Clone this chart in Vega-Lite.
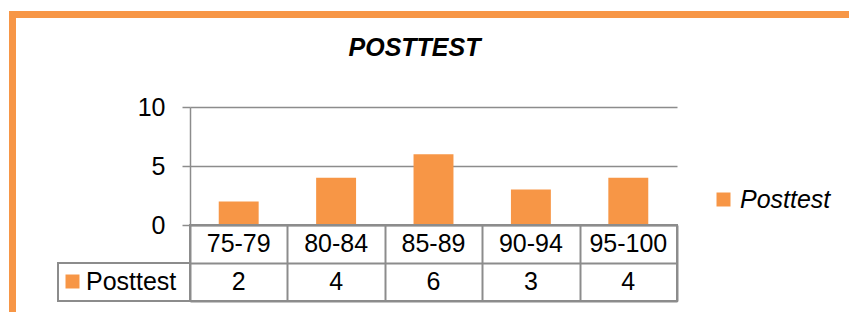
{
  "$schema": "https://vega.github.io/schema/vega-lite/v6.json",
  "background": "white",
  "padding": {"left": 9, "top": 11, "right": 0, "bottom": 0},
  "config": {"view": {"stroke": null}, "font": "Liberation Sans"},
  "datasets": {
    "scores": [
      {"range": "75-79", "count": 2, "series": "Posttest"},
      {"range": "80-84", "count": 4, "series": "Posttest"},
      {"range": "85-89", "count": 6, "series": "Posttest"},
      {"range": "90-94", "count": 3, "series": "Posttest"},
      {"range": "95-100", "count": 4, "series": "Posttest"}
    ]
  },
  "bounds": "flush",
  "spacing": 0,
  "vconcat": [
    {
      "width": 840, "height": 7,
      "view": {"fill": "#F79646", "stroke": null},
      "data": {"values": []},
      "mark": "rect",
      "encoding": {}
    },
    {
      "bounds": "flush",
      "spacing": 42,
      "hconcat": [
        {
          "width": 7, "height": 294,
          "view": {"fill": "#F79646", "stroke": null},
          "data": {"values": []},
          "mark": "rect",
          "encoding": {}
        },
        {
          "bounds": "flush",
          "spacing": 0,
          "columns": 2,
          "resolve": {"scale": {"color": "independent"}},
          "concat": [
            {"width": 132, "height": 89, "data": {"values": []}, "mark": "rect", "encoding": {}},
            {"width": 487, "height": 89, "data": {"values": []}, "mark": "rect", "encoding": {}},
            {"width": 132, "height": 118, "data": {"values": []}, "mark": "rect", "encoding": {}},
            {
              "width": 487, "height": 118,
              "title": {"text": "POSTTEST", "fontSize": 25, "fontWeight": "bold", "fontStyle": "italic", "color": "black", "offset": 34, "dx": -19, "font": "Liberation Sans"},
              "data": {"name": "scores"},
              "mark": {"type": "bar"},
              "encoding": {
                "x": {"field": "range", "type": "nominal", "sort": null, "axis": null,
                      "scale": {"paddingInner": 0.59, "paddingOuter": 0.295}},
                "y": {"field": "count", "type": "quantitative",
                      "scale": {"domain": [0, 10], "nice": false},
                      "axis": {"values": [0, 5, 10], "title": null, "grid": true, "gridColor": "#8c8c8c", "gridWidth": 1.5,
                               "domainColor": "#8c8c8c", "domainWidth": 1.5, "tickColor": "#8c8c8c", "tickWidth": 1.5, "tickSize": 8,
                               "labelFontSize": 25, "labelColor": "black", "labelPadding": 17, "labelFont": "Liberation Sans"}},
                "color": {"field": "series", "type": "nominal", "scale": {"domain": ["Posttest"], "range": ["#F79646"]},
                          "legend": {"title": null, "orient": "none", "legendX": 521, "legendY": 80, "padding": 0,
                                     "symbolType": "square", "symbolSize": 196, "symbolStrokeWidth": 0, "symbolOpacity": 1,
                                     "labelFontSize": 25, "labelFontStyle": "italic", "labelColor": "black", "labelOffset": 4, "labelFont": "Liberation Sans"}}
              }
            },
            {
              "width": 132, "height": 76,
              "layer": [
                {
                  "data": {"values": [{"row": "value"}]},
                  "mark": {"type": "rect", "fill": "white", "stroke": "#8c8c8c", "strokeWidth": 2},
                  "encoding": {
                    "y": {"field": "row", "type": "nominal", "axis": null,
                          "scale": {"domain": ["category", "value"], "paddingInner": 0, "paddingOuter": 0}}
                  }
                },
                {
                  "data": {"name": "scores"},
                  "mark": {"type": "square", "filled": true, "opacity": 0},
                  "encoding": {
                    "color": {"field": "series", "type": "nominal", "scale": {"domain": ["Posttest"], "range": ["#F79646"]},
                              "legend": {"title": null, "orient": "none", "legendX": 2, "legendY": 44, "padding": 0,
                                         "symbolType": "square", "symbolSize": 196, "symbolStrokeWidth": 0, "symbolOpacity": 1, "symbolFillColor": "#F79646",
                                         "labelFontSize": 25, "labelColor": "black", "labelOffset": 1, "labelFont": "Liberation Sans"}}
                  }
                }
              ]
            },
            {
              "width": 487, "height": 76,
              "view": {"stroke": "#8c8c8c", "strokeWidth": 2},
              "data": {"name": "scores"},
              "layer": [
                {
                  "mark": {"type": "text", "fontSize": 25, "color": "black", "baseline": "middle", "align": "center"},
                  "encoding": {
                    "x": {"field": "range", "type": "nominal", "sort": null,
                          "scale": {"paddingInner": 0, "paddingOuter": 0},
                          "axis": {"grid": true, "tickBand": "extent", "labels": false, "ticks": false, "domain": false, "title": null,
                                   "gridColor": "#8c8c8c", "gridWidth": 2}},
                    "y": {"datum": "category", "type": "nominal",
                          "scale": {"domain": ["category", "value"], "paddingInner": 0, "paddingOuter": 0},
                          "axis": {"grid": true, "tickBand": "extent", "labels": false, "ticks": false, "domain": false, "title": null,
                                   "gridColor": "#8c8c8c", "gridWidth": 2}},
                    "text": {"field": "range"}
                  }
                },
                {
                  "mark": {"type": "text", "fontSize": 25, "color": "black", "baseline": "middle", "align": "center"},
                  "encoding": {
                    "x": {"field": "range", "type": "nominal", "sort": null},
                    "y": {"datum": "value", "type": "nominal"},
                    "text": {"field": "count", "type": "quantitative"}
                  }
                }
              ]
            }
          ]
        }
      ]
    }
  ]
}
